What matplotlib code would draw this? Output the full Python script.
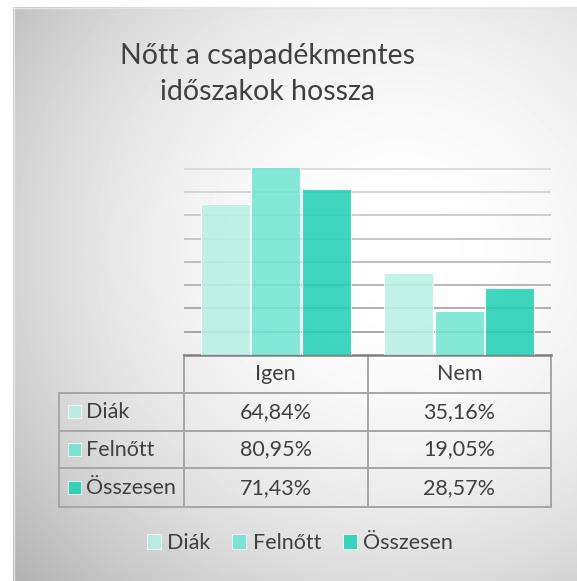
import numpy as np
import matplotlib
matplotlib.use('Agg')
from matplotlib import pyplot as plt
from matplotlib.patches import Rectangle

plt.rcParams['font.family'] = ['Lato', 'DejaVu Sans']

categories = ['Igen', 'Nem']
series = ['Diák', 'Felnőtt', 'Összesen']
diak = [0.6484, 0.3516]
felnott = [0.8095, 0.1905]
osszesen = [0.7143, 0.2857]
values = [diak, felnott, osszesen]
colors = ['#b5f0e4', '#6ee5d0', '#1ecfb3']
title = 'Nőtt a csapadékmentes\nidőszakok hossza'
txt = '#404040'

W, H = 577, 581
fig = plt.figure(figsize=(W / 100, H / 100), dpi=100)

# background with radial gradient (pixel coords)
bg = fig.add_axes([0, 0, 1, 1])
bg.set_xlim(0, W)
bg.set_ylim(H, 0)
bg.axis('off')
yy, xx = np.mgrid[7:H:1.0, 13:W:1.0]
d = np.sqrt(((xx - 400) / 420) ** 2 + ((yy - 250) / 400) ** 2)
shade = 1 - 0.2 * np.clip(d, 0, 1.25) ** 2.0
bg.imshow(shade, cmap='gray', vmin=0, vmax=1, extent=(13, W, H, 7),
          aspect='auto', interpolation='bilinear', zorder=0)
bg.plot([13.5, 13.5], [7, H], color='#e4e4e4', lw=1, zorder=1)
bg.plot([13, W], [7.5, 7.5], color='#e4e4e4', lw=1, zorder=1)

bg.text(268, 74, title, ha='center', va='center', fontsize=20.5,
        color=txt, linespacing=1.45, zorder=2)

# plot area
x0, x1, yb, yt = 184, 551, 355, 145.5
ax = fig.add_axes([x0 / W, 1 - yb / H, (x1 - x0) / W, (yb - yt) / H])
ax.patch.set_visible(False)
ax.set_xlim(-0.5, 1.5)
ax.set_ylim(0, 0.9)
for s in ax.spines.values():
    s.set_visible(False)
ax.set_yticks(np.arange(0.1, 0.91, 0.1))
ax.set_xticks([])
ax.tick_params(left=False, labelleft=False)
ax.grid(axis='y', lw=1.2)
ax.set_axisbelow(True)
glines = ax.get_ygridlines()
for i, gl in enumerate(glines):
    g = 0.6 + 0.28 * i / (len(glines) - 1)
    gl.set_color((g, g, g))

xpos = np.arange(len(categories))
bw = 0.267
for i, (vals, c) in enumerate(zip(values, colors)):
    ax.bar(xpos + (i - 1) * 0.275, vals, bw, color=c, alpha=0.85,
           edgecolor='white', lw=0.8, zorder=3)

# data table (pixel coords on bg)
rows_y = [355, 392.7, 430.7, 468.3, 507.3]
cols_x = [59, 183.5, 367.7, 551]
lc = '#a6a6a6'
bg.plot([cols_x[1], cols_x[3]], [rows_y[0], rows_y[0]], color='#808080', lw=1.8, zorder=4)
for y in rows_y[1:]:
    bg.plot([cols_x[0], cols_x[3]], [y, y], color=lc, lw=1.4, zorder=3)
for x in cols_x[1:]:
    bg.plot([x, x], [rows_y[0], rows_y[-1]], color=lc, lw=1.4, zorder=3)
bg.plot([cols_x[0], cols_x[0]], [rows_y[1], rows_y[-1]], color=lc, lw=1.4, zorder=3)

fs = 15.5
for j, cat in enumerate(categories):
    cx = (cols_x[j + 1] + cols_x[j + 2]) / 2
    bg.text(cx, (rows_y[0] + rows_y[1]) / 2, cat, ha='center', va='center',
            fontsize=fs, color=txt, zorder=5)
for i, (name, vals, c) in enumerate(zip(series, values, colors)):
    cy = (rows_y[i + 1] + rows_y[i + 2]) / 2
    bg.add_patch(Rectangle((68, cy - 6.5), 13, 13, facecolor=c, alpha=0.85,
                           edgecolor='white', lw=0.6, zorder=5))
    bg.text(86, cy, name, ha='left', va='center', fontsize=fs, color=txt, zorder=5)
    for j, v in enumerate(vals):
        cx = (cols_x[j + 1] + cols_x[j + 2]) / 2
        bg.text(cx, cy, f'{v * 100:.2f}%'.replace('.', ','), ha='center',
                va='center', fontsize=fs, color=txt, zorder=5)

# legend
handles = [Rectangle((0, 0), 1, 1, facecolor=c, alpha=0.85, edgecolor='white', lw=0.6)
           for c in colors]
fig.legend(handles, series, loc='center', bbox_to_anchor=(300 / W, 1 - 543 / H),
           ncol=3, frameon=False, fontsize=fs, handlelength=0.65, handleheight=0.65,
           handletextpad=0.3, columnspacing=1.0, labelcolor=txt)

fig.savefig('out.png', dpi=100)
